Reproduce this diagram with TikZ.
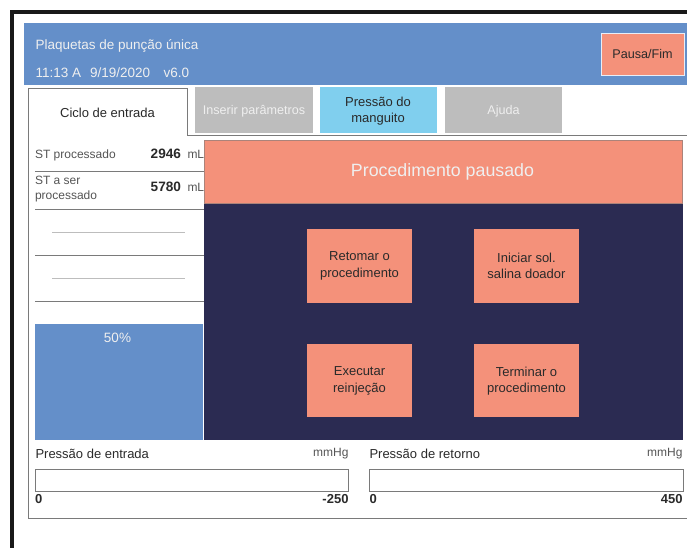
\documentclass[tikz,border=0pt]{standalone}
\usepackage{fontspec}
\setmainfont{Liberation Sans}
\definecolor{hdr}{HTML}{648FC9}
\definecolor{sal}{HTML}{F4917A}
\definecolor{navy}{HTML}{2B2B52}
\definecolor{cyanb}{HTML}{80CFEE}
\definecolor{grayb}{HTML}{BDBDBD}
\definecolor{lineg}{HTML}{7A7A7A}
\definecolor{txt}{HTML}{2A2A2A}
\definecolor{soft}{HTML}{EFEFEF}
\newcommand{\fsz}[1]{\fontsize{#1}{#1}\selectfont}
\tikzset{
 x=1pt,y=-1pt,
 lbl/.style={inner sep=0pt,outer sep=0pt,text=txt,font=\fsz{12.6}},
 whitelbl/.style={lbl,text=soft},
 sm/.style={lbl,font=\fsz{11},text=lineg!70!black},
 bnum/.style={lbl,font=\fsz{13.6}\bfseries},
 rule/.style={draw=lineg,line width=0.9pt},
 thin gray/.style={draw=grayb,line width=0.7pt},
 btnlbl/.style={lbl,align=center,font=\fsz{13},text=txt},
}
\begin{document}
\begin{tikzpicture}
\useasboundingbox (0,0) rectangle (687,548);
\fill[white] (0,0) rectangle (687,548);
% outer frame
\fill[black!90] (10,10) rectangle (687,14);
\fill[black!90] (10,10) rectangle (14,548);
% header
\fill[hdr] (24,23) rectangle (687,85);
\node[whitelbl,anchor=west,font=\fsz{13.5}] (title) at (35.5,46) {Plaquetas de punção única};
\node[whitelbl,anchor=west,font=\fsz{13.5}] (time) at (35.5,73) {11:13 A\hspace{9pt}9/19/2020\hspace{13.5pt}v6.0};
\draw[fill=sal,draw=white!85!hdr,line width=0.9pt] (601,33) rectangle (684,75);
\node[lbl] (pausa) at (642.5,53.5) {Pausa/Fim};
% tab and panel outline
\draw[rule] (687,135.5) -- (187.5,135.5) -- (187.5,88.5) -- (28.5,88.5) -- (28.5,518) -- (687,518);
\node[lbl,font=\fsz{13}] (ciclo) at (107.5,112.5) {Ciclo de entrada};
% other tabs
\fill[grayb] (195,87.5) rectangle (312.5,133);
\node[whitelbl] (ins) at (254,111) {Inserir parâmetros};
\fill[cyanb] (320,87.5) rectangle (437,133);
\node[btnlbl] (cuff) at (378,111) {Pressão do\\[3pt]manguito};
\fill[grayb] (444.5,87.5) rectangle (562,133);
\node[whitelbl] (help) at (503.5,111) {Ajuda};
% left rows
\node[sm,anchor=west,font=\fsz{12}] (st1) at (35,155) {ST processado};
\node[bnum,anchor=east] (v1) at (181,153.5) {2946};
\node[sm,anchor=west,font=\fsz{12}] (ml1) at (187.5,154.5) {mL};
\draw[rule] (35,171) -- (204,171);
\node[sm,anchor=west,align=left,font=\fsz{12}] (st2) at (35,189) {ST a ser\\[3.5pt]processado};
\node[bnum,anchor=east] (v2) at (181,187) {5780};
\node[sm,anchor=west,font=\fsz{12}] (ml2) at (187.5,187.5) {mL};
\draw[rule] (35,209) -- (204,209);
\draw[thin gray] (52,232) -- (185,232);
\draw[rule] (35,255) -- (204,255);
\draw[thin gray] (52,278) -- (185,278);
\draw[rule] (35,301) -- (204,301);
% progress
\fill[hdr] (35,324) rectangle (203,440);
\node[whitelbl,font=\fsz{13.5}] (pct) at (117.5,337.5) {50\%};
% pause panel
\fill[navy] (204,203) rectangle (682.5,440);
\draw[fill=sal,draw=lineg!60!sal,line width=0.7pt] (204,140.5) rectangle (682.5,203);
\node[lbl,text=soft,font=\fsz{17.8}] (pause) at (442.5,172) {Procedimento pausado};
\fill[sal] (307,229) rectangle (412,302.5);
\node[btnlbl] (b1) at (359.5,266) {Retomar o\\[3.5pt]procedimento};
\fill[sal] (474,229) rectangle (579,302.5);
\node[btnlbl] (b2) at (526.5,266) {Iniciar sol.\\[3.5pt]salina doador};
\fill[sal] (307,343.5) rectangle (412,417);
\node[btnlbl] (b3) at (359.5,381) {Executar\\[3.5pt]reinjeção};
\fill[sal] (474,343.5) rectangle (579,417);
\node[btnlbl] (b4) at (526.5,381) {Terminar o\\[3.5pt]procedimento};
% gauges
\node[lbl,anchor=west,font=\fsz{13}] (pe) at (35.5,454) {Pressão de entrada};
\node[sm,anchor=east,font=\fsz{12}] (u1) at (348.5,454) {mmHg};
\draw[rule] (35,469) rectangle (348.5,491);
\node[bnum,anchor=west,font=\fsz{13}\bfseries] (z1) at (35,499) {0};
\node[bnum,anchor=east,font=\fsz{13}\bfseries] (m1) at (348.5,499) {-250};
\node[lbl,anchor=west,font=\fsz{13}] (pr) at (369.5,454) {Pressão de retorno};
\node[sm,anchor=east,font=\fsz{12}] (u2) at (682.5,454) {mmHg};
\draw[rule] (369,469) rectangle (683.5,491);
\node[bnum,anchor=west,font=\fsz{13}\bfseries] (z2) at (369.5,499) {0};
\node[bnum,anchor=east,font=\fsz{13}\bfseries] (m2) at (682.5,499) {450};
\end{tikzpicture}
\end{document}
